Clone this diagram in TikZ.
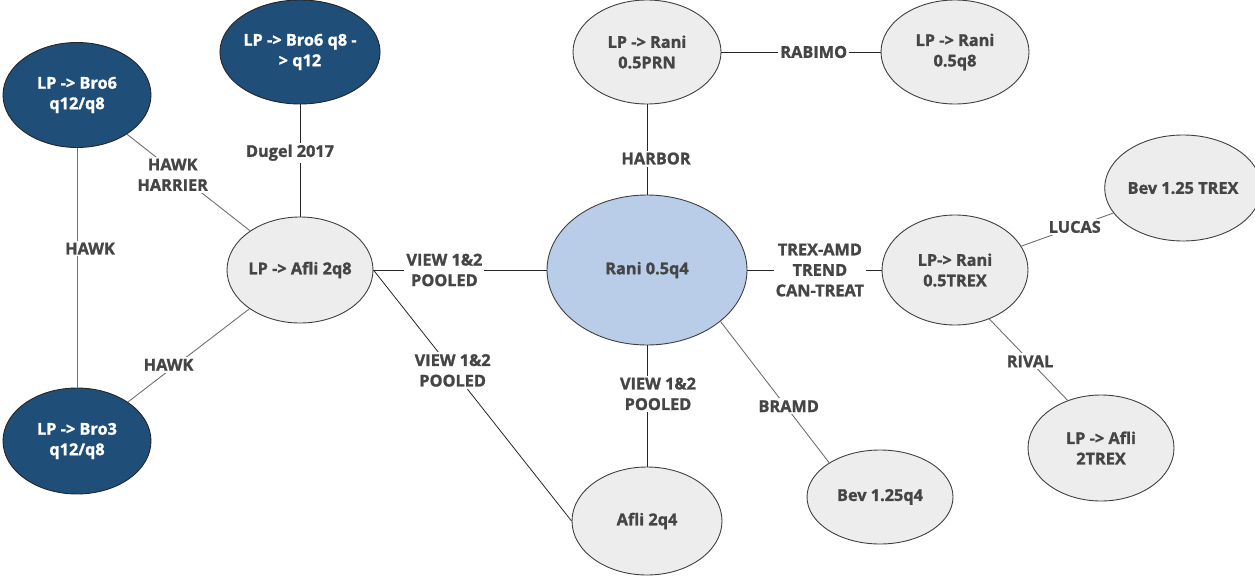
\documentclass[tikz,border=0pt]{standalone}
\usepackage{fontspec}
\setmainfont{Open Sans}[BoldFeatures={FakeBold=1.3}]
\usetikzlibrary{shapes.geometric}
\definecolor{darknode}{HTML}{1F4E79}
\definecolor{bluenode}{HTML}{B9CDE8}
\definecolor{lightnode}{HTML}{EDEDED}
\definecolor{edgeline}{HTML}{404040}
\definecolor{inktext}{HTML}{454545}
\definecolor{darkline}{HTML}{262626}
\definecolor{greyline}{HTML}{707070}
\tikzset{
  bubble/.style={ellipse, draw=edgeline, line width=0.9pt, inner sep=0pt,
    align=center, font=\fontsize{16.3}{20.5}\selectfont\bfseries},
  darkbubble/.style={bubble, fill=darknode, draw=black!85, text=white},
  lightbubble/.style={bubble, fill=lightnode, text=inktext},
  centrebubble/.style={bubble, fill=bluenode, text=inktext},
  link/.style={draw=darkline, line width=0.8pt},
  greylink/.style={draw=greyline, line width=0.9pt},
  lbl/.style={fill=white, text=inktext, align=center, inner sep=2pt,
    font=\fontsize{16.3}{20.5}\selectfont\bfseries}
}
\begin{document}
\begin{tikzpicture}[x=1pt,y=-1pt]
\useasboundingbox (0,0) rectangle (1255,578);

% treatment nodes
\node[darkbubble, minimum width=148pt, minimum height=105pt] (b6a) at (77,95) {LP -> Bro6\\q12/q8};
\node[darkbubble, minimum width=148pt, minimum height=104pt] (b6b) at (300,52) {LP -> Bro6 q8 -\\> q12};
\node[darkbubble, minimum width=148pt, minimum height=106pt] (b3) at (77,441) {LP -> Bro3\\q12/q8};
\node[lightbubble, minimum width=146pt, minimum height=106pt] (a8) at (300,270) {LP -> Afli 2q8};
\node[lightbubble, minimum width=148pt, minimum height=104pt] (rprn) at (647,52) {LP -> Rani\\0.5PRN};
\node[lightbubble, minimum width=148pt, minimum height=104pt] (rq8) at (955,52) {LP -> Rani\\0.5q8};
\node[centrebubble, minimum width=200pt, minimum height=150pt] (rani) at (647,270) {Rani 0.5q4};
\node[lightbubble, minimum width=146pt, minimum height=110pt] (rtrex) at (955,270) {LP-> Rani\\0.5TREX};
\node[lightbubble, minimum width=144pt, minimum height=106pt] (btrex) at (1183,188) {Bev 1.25 TREX};
\node[lightbubble, minimum width=146pt, minimum height=106pt] (atrex) at (1101,448) {LP -> Afli\\2TREX};
\node[lightbubble, minimum width=150pt, minimum height=108pt] (a4) at (647,521) {Afli 2q4};
\node[lightbubble, minimum width=146pt, minimum height=94pt] (bq4) at (880,497) {Bev 1.25q4};

% trial connectors
\draw[greylink] (b6a) -- node[lbl, pos=0.42, xshift=13pt] {HAWK} (b3);
\draw[greylink] (b6a) -- node[lbl, pos=0.42, xshift=-6pt] {HAWK\\HARRIER} (a8);
\draw[link] (b6b) -- node[lbl, pos=0.43, xshift=-10pt] {Dugel 2017} (a8);
\draw[greylink] (a8) -- node[lbl, pos=0.6, xshift=-8pt] {HAWK} (b3);
\draw[link] (a8.east) -- node[lbl, pos=0.41] {VIEW 1\&2\\POOLED} (rani.west);
\draw[link] (a8.east) -- node[lbl, pos=0.42, xshift=-4pt, yshift=5pt] {VIEW 1\&2\\POOLED} (a4.west);
\draw[link] (rprn) -- node[lbl, pos=0.6, xshift=9pt] {HARBOR} (rani);
\draw[link] (rprn) -- node[lbl, pos=0.58] {RABIMO} (rq8);
\draw[link] (rani) -- node[lbl, pos=0.54] {TREX-AMD\\TREND\\CAN-TREAT} (rtrex);
\draw[link] (rani) -- node[lbl, pos=0.4, xshift=11pt] {VIEW 1\&2\\POOLED} (a4);
\draw[greylink] (rani.-35) -- node[lbl, pos=0.6, xshift=3pt] {BRAMD} (bq4.146);
\draw[greylink] (rtrex) -- node[lbl, pos=0.58] {LUCAS} (btrex);
\draw[greylink] (rtrex.-55) -- node[lbl, pos=0.52] {RIVAL} (atrex.125);
\end{tikzpicture}
\end{document}
